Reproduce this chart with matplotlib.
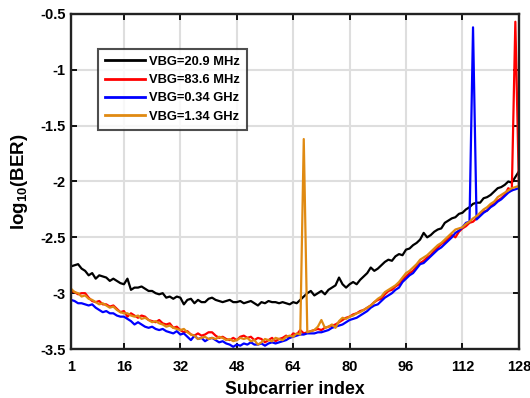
import matplotlib
matplotlib.use("Agg")
import matplotlib.pyplot as plt
import numpy as np

plt.rcParams['font.family'] = ['Liberation Sans', 'DejaVu Sans']
plt.rcParams['font.weight'] = 'bold'
plt.rcParams['mathtext.fontset'] = 'custom'
plt.rcParams['mathtext.rm'] = 'Liberation Sans:bold'
plt.rcParams['mathtext.bf'] = 'Liberation Sans:bold'

subcarrier = np.arange(1, 129)

# log10(BER) per subcarrier, one array per VBG bandwidth
ber_20_9mhz = [
    -2.76, -2.75, -2.74, -2.78, -2.80, -2.84, -2.82, -2.87, -2.84, -2.85,
    -2.86, -2.89, -2.87, -2.89, -2.91, -2.92, -2.87, -2.97, -2.95, -2.95,
    -2.94, -2.96, -2.98, -2.98, -3.00, -3.01, -3.00, -3.04, -3.03, -3.05,
    -3.03, -3.04, -3.10, -3.06, -3.05, -3.09, -3.06, -3.08, -3.08, -3.05,
    -3.04, -3.06, -3.07, -3.08, -3.07, -3.06, -3.08, -3.08, -3.07, -3.09,
    -3.08, -3.07, -3.09, -3.11, -3.08, -3.09, -3.07, -3.08, -3.08, -3.09,
    -3.08, -3.09, -3.10, -3.08, -3.09, -3.06, -3.03, -3.00, -2.98, -3.02,
    -3.00, -2.98, -3.01, -2.97, -2.95, -2.93, -2.86, -2.92, -2.95, -2.92,
    -2.90, -2.92, -2.88, -2.85, -2.82, -2.77, -2.80, -2.78, -2.75, -2.72,
    -2.70, -2.71, -2.67, -2.65, -2.66, -2.61, -2.60, -2.57, -2.55, -2.52,
    -2.46, -2.50, -2.48, -2.45, -2.43, -2.42, -2.37, -2.35, -2.33, -2.32,
    -2.29, -2.28, -2.25, -2.23, -2.20, -2.19, -2.19, -2.15, -2.14, -2.12,
    -2.09, -2.06, -2.05, -2.03, -2.00, -2.01, -1.96, -1.91,
]

ber_83_6mhz = [
    -2.98, -2.99, -3.01, -3.00, -3.00, -3.04, -3.07, -3.08, -3.07, -3.10,
    -3.10, -3.12, -3.11, -3.14, -3.17, -3.16, -3.21, -3.18, -3.20, -3.22,
    -3.20, -3.21, -3.24, -3.25, -3.26, -3.24, -3.27, -3.28, -3.27, -3.31,
    -3.30, -3.33, -3.35, -3.34, -3.37, -3.38, -3.36, -3.38, -3.37, -3.35,
    -3.35, -3.38, -3.40, -3.39, -3.41, -3.42, -3.40, -3.42, -3.39, -3.38,
    -3.40, -3.39, -3.42, -3.40, -3.41, -3.44, -3.42, -3.40, -3.43, -3.41,
    -3.40, -3.38, -3.40, -3.36, -3.37, -3.33, -3.36, -3.35, -3.34, -3.33,
    -3.32, -3.33, -3.31, -3.30, -3.29, -3.28, -3.26, -3.24, -3.22, -3.21,
    -3.19, -3.18, -3.16, -3.15, -3.13, -3.11, -3.08, -3.06, -3.05, -3.01,
    -2.98, -2.97, -2.94, -2.92, -2.88, -2.85, -2.82, -2.80, -2.76, -2.73,
    -2.71, -2.68, -2.66, -2.62, -2.59, -2.56, -2.54, -2.51, -2.48, -2.50,
    -2.45, -2.42, -2.40, -2.37, -2.36, -2.33, -2.30, -2.27, -2.26, -2.22,
    -2.20, -2.17, -2.15, -2.12, -2.06, -2.08, -0.57, -2.03,
]

ber_0_34ghz = [
    -3.06, -3.07, -3.09, -3.09, -3.10, -3.11, -3.10, -3.13, -3.15, -3.17,
    -3.16, -3.18, -3.18, -3.20, -3.21, -3.21, -3.23, -3.25, -3.28, -3.26,
    -3.28, -3.30, -3.31, -3.30, -3.32, -3.33, -3.32, -3.34, -3.35, -3.36,
    -3.34, -3.37, -3.36, -3.39, -3.42, -3.38, -3.41, -3.40, -3.43, -3.41,
    -3.40, -3.42, -3.44, -3.43, -3.45, -3.46, -3.48, -3.46, -3.47, -3.45,
    -3.46, -3.44, -3.46, -3.46, -3.45, -3.47, -3.45, -3.44, -3.45, -3.44,
    -3.43, -3.42, -3.40, -3.39, -3.38, -3.37, -3.37, -3.36, -3.36, -3.36,
    -3.35, -3.35, -3.34, -3.33, -3.31, -3.30, -3.29, -3.28, -3.26, -3.24,
    -3.23, -3.22, -3.20, -3.18, -3.16, -3.13, -3.11, -3.10, -3.07, -3.04,
    -3.02, -3.00, -2.97, -2.95, -2.90, -2.87, -2.84, -2.82, -2.78, -2.74,
    -2.73, -2.70, -2.67, -2.64, -2.61, -2.59, -2.56, -2.53, -2.50, -2.46,
    -2.44, -2.41, -2.37, -2.36, -0.62, -2.34, -2.31, -2.28, -2.26, -2.23,
    -2.21, -2.18, -2.16, -2.13, -2.10, -2.08, -2.07, -2.06,
]

ber_1_34ghz = [
    -2.96, -2.99, -3.00, -3.03, -3.02, -3.05, -3.06, -3.08, -3.10, -3.09,
    -3.11, -3.13, -3.12, -3.15, -3.17, -3.18, -3.18, -3.20, -3.21, -3.20,
    -3.23, -3.22, -3.24, -3.26, -3.25, -3.27, -3.28, -3.30, -3.29, -3.31,
    -3.32, -3.33, -3.32, -3.35, -3.37, -3.38, -3.41, -3.40, -3.39, -3.41,
    -3.40, -3.41, -3.39, -3.40, -3.42, -3.41, -3.43, -3.42, -3.40, -3.41,
    -3.40, -3.43, -3.42, -3.46, -3.44, -3.41, -3.42, -3.43, -3.40, -3.41,
    -3.42, -3.39, -3.38, -3.39, -3.36, -3.37, -1.62, -3.35, -3.34, -3.33,
    -3.30, -3.24, -3.31, -3.30, -3.28, -3.31, -3.25, -3.22, -3.23, -3.21,
    -3.20, -3.18, -3.17, -3.15, -3.13, -3.11, -3.08, -3.05, -3.03, -2.99,
    -2.97, -2.95, -2.93, -2.90, -2.86, -2.82, -2.80, -2.77, -2.74, -2.70,
    -2.68, -2.66, -2.63, -2.60, -2.57, -2.55, -2.52, -2.49, -2.46, -2.43,
    -2.42, -2.41, -2.38, -2.36, -2.33, -2.31, -2.28, -2.25, -2.23, -2.20,
    -2.18, -2.14, -2.12, -2.10, -2.08, -2.06, -2.05, -2.04,
]

labels = ['VBG=20.9 MHz', 'VBG=83.6 MHz', 'VBG=0.34 GHz', 'VBG=1.34 GHz']
colors = ['black', 'red', 'blue', '#E08A12']
series = [ber_20_9mhz, ber_83_6mhz, ber_0_34ghz, ber_1_34ghz]

xticks = [1, 16, 32, 48, 64, 80, 96, 112, 128]
yticks = [-3.5, -3, -2.5, -2, -1.5, -1, -0.5]

fig = plt.figure(figsize=(5.3, 3.98), dpi=100)
ax = fig.add_axes([0.134, 0.123, 0.845, 0.842])

for y, c, lab in zip(series, colors, labels):
    ax.plot(subcarrier, y, color=c, linewidth=1.6, label=lab)

ax.set_xlim(1, 128)
ax.set_ylim(-3.5, -0.5)
ax.set_xticks(xticks)
ax.set_yticks(yticks)
ax.set_yticklabels(['-3.5', '-3', '-2.5', '-2', '-1.5', '-1', '-0.5'])
ax.grid(True, color='#dedede', linewidth=1.5)
ax.set_axisbelow(True)
ax.tick_params(direction='in', top=True, right=True, length=4, width=1.3,
               labelsize=10.5)
ax.tick_params(axis='x', pad=8)
ax.tick_params(axis='y', pad=4)
for lbl in ax.get_xticklabels() + ax.get_yticklabels():
    lbl.set_fontweight('bold')
for s in ax.spines.values():
    s.set_linewidth(1.7)
    s.set_color('#222222')

ax.set_xlabel('Subcarrier index', fontsize=12.7, fontweight='bold', labelpad=5)
ax.set_ylabel(r'log$_{10}$(BER)', fontsize=13.5, fontweight='bold', labelpad=7)

leg = ax.legend(loc='upper left', bbox_to_anchor=(0.061, 0.896), borderaxespad=0,
                prop={'weight': 'bold', 'size': 9.3}, frameon=True,
                fancybox=False, handlelength=3.1, handletextpad=0.3,
                labelspacing=0.48, borderpad=0.55)
leg.get_frame().set_edgecolor('#222222')
leg.get_frame().set_linewidth(1.5)
for line in leg.get_lines():
    line.set_linewidth(2)

fig.savefig('out.png', dpi=100)
